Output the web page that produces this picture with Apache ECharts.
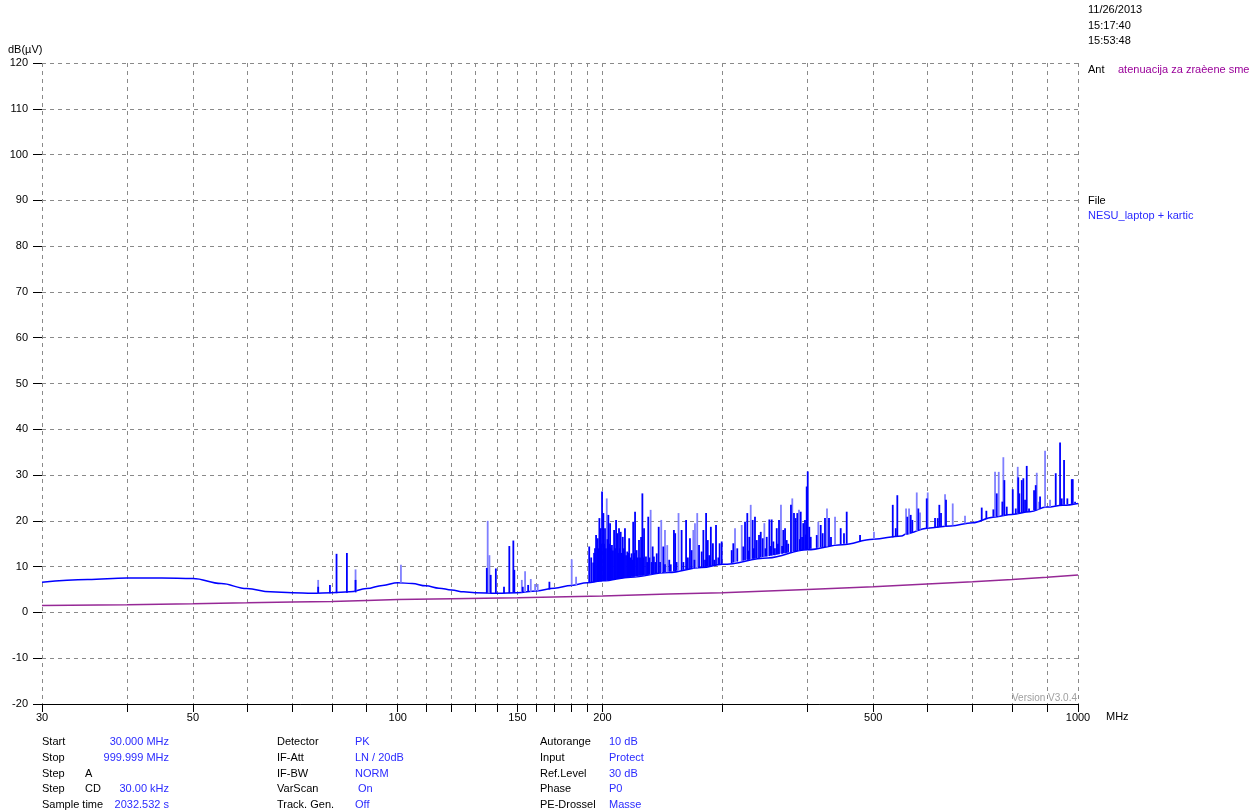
<!DOCTYPE html>
<html><head><meta charset="utf-8">
<script src="https://cdn.jsdelivr.net/npm/echarts@6/dist/echarts.min.js"></script>
<style>html,body{margin:0;padding:0;background:#fff}#c{width:1249px;height:812px}</style>
</head><body><div id="c"></div>
<script>
// ---------- data ----------
const yTicks = [-20, -10, 0, 10, 20, 30, 40, 50, 60, 70, 80, 90, 100, 110, 120];
const xGrid = [30, 40, 50, 60, 70, 80, 90, 100, 110, 120, 130, 140, 150, 160, 170, 180, 190, 200, 300, 400, 500, 600, 700, 800, 900, 1000];
const xLabels = [30, 50, 100, 150, 200, 500, 1000];

// noise floor of the measurement (MHz, dBµV)
const baseFreq  = [30, 35, 40, 45, 50, 55, 60, 65, 70, 75, 80, 85, 90, 95, 100, 105, 110, 115, 120, 125, 130, 140, 150, 160, 170, 180, 190, 200, 220, 250, 280, 300, 350, 400, 450, 500, 550, 560, 600, 650, 700, 750, 800, 850, 900, 950, 1000];
const baseLevel = [6.6, 7.2, 7.5, 7.5, 7.4, 6.3, 5.2, 4.5, 4.3, 4.2, 4.3, 4.5, 5.2, 5.9, 6.5, 6.3, 5.8, 5.3, 4.9, 4.5, 4.3, 4.2, 4.3, 4.7, 5.3, 5.9, 6.5, 6.9, 7.7, 8.7, 9.8, 10.5, 11.9, 13.7, 14.8, 16.0, 16.7, 17.2, 18.4, 18.9, 19.6, 20.8, 21.4, 22.0, 23.0, 23.4, 23.8];

// antenna attenuation curve
const antFreq  = [30, 40, 50, 60, 70, 80, 90, 100, 120, 150, 200, 250, 300, 400, 500, 600, 700, 800, 900, 1000];
const antLevel = [1.5, 1.7, 1.9, 2.1, 2.3, 2.4, 2.6, 2.8, 3.0, 3.2, 3.6, 4.0, 4.3, 5.0, 5.6, 6.2, 6.7, 7.2, 7.7, 8.2];

// emission peaks: [MHz, floor dBµV, peak dBµV]
const spikesDark = [
  [76.4, 4.2, 5.6], [79.5, 4.2, 6.0], [81.3, 4.2, 12.8], [84.2, 4.3, 13.0], [86.7, 4.4, 7.1],
  [135.2, 4.2, 9.7], [137.0, 4.2, 8.2], [139.4, 4.2, 9.6], [143.3, 4.2, 5.6], [145.9, 4.2, 14.5],
  [147.9, 4.3, 15.7], [148.4, 4.3, 9.3], [152.7, 4.4, 5.6], [155.5, 4.5, 6.0], [167.1, 5.0, 6.7],
  [191.2, 6.5, 14.4], [192.5, 6.5, 12.0], [193.8, 6.6, 10.9], [194.4, 6.6, 13.0], [195.0, 6.7, 14.0],
  [195.7, 6.7, 16.9], [196.8, 6.7, 16.2], [197.3, 6.7, 14.0], [197.9, 6.8, 20.6], [198.8, 6.8, 18.4],
  [199.2, 6.8, 15.0], [199.7, 6.9, 26.4], [200.6, 6.9, 21.7], [201.1, 6.9, 15.0], [201.7, 6.9, 18.4],
  [202.3, 7.0, 14.0], [203.4, 7.0, 16.0], [204.0, 7.0, 21.3], [204.6, 7.0, 15.0], [205.2, 7.1, 19.5],
  [205.8, 7.1, 14.0], [206.5, 7.2, 14.7], [207.2, 7.2, 13.5], [208.0, 7.2, 18.0], [208.7, 7.2, 14.0],
  [209.4, 7.3, 20.2], [210.3, 7.3, 17.3], [210.9, 7.3, 13.0], [211.5, 7.4, 18.4], [212.1, 7.4, 14.0],
  [212.7, 7.4, 17.6], [213.4, 7.4, 13.0], [214.2, 7.5, 16.5], [215.0, 7.5, 14.0], [215.8, 7.5, 18.4],
  [216.6, 7.6, 12.5], [217.5, 7.6, 13.3], [218.2, 7.6, 13.0], [218.9, 7.7, 16.2], [219.8, 7.7, 12.0],
  [220.7, 7.8, 12.9], [221.3, 7.8, 11.5], [221.9, 7.8, 19.8], [222.6, 7.8, 13.0], [223.3, 7.9, 22.0],
  [224.5, 7.9, 13.6], [225.4, 7.9, 12.0], [226.3, 8.0, 15.8], [227.1, 8.0, 12.0], [227.9, 8.0, 16.5],
  [228.9, 8.0, 26.0], [229.5, 8.1, 12.0], [230.2, 8.1, 18.4], [231.7, 8.2, 12.2], [232.6, 8.2, 11.0],
  [233.5, 8.2, 20.9], [234.4, 8.3, 12.0], [236.2, 8.3, 11.0], [237.0, 8.4, 14.4], [238.0, 8.4, 12.2],
  [239.1, 8.4, 11.0], [240.3, 8.5, 12.9], [241.9, 8.6, 18.7], [243.0, 8.6, 11.0], [245.7, 8.7, 14.4],
  [247.1, 8.7, 10.5], [250.7, 8.9, 11.5], [252.0, 8.9, 10.5], [254.7, 9.0, 18.0], [255.8, 9.0, 17.3],
  [257.0, 9.1, 11.0], [261.4, 9.2, 18.0], [263.0, 9.3, 11.0], [265.4, 9.4, 20.2], [267.0, 9.4, 12.0],
  [268.9, 9.5, 16.2], [270.4, 9.5, 13.6], [273.0, 9.6, 11.5], [277.3, 9.8, 14.7], [279.8, 9.8, 13.3],
  [281.4, 9.9, 18.0], [283.0, 9.9, 11.5], [284.0, 10.0, 21.7], [285.6, 10.0, 15.8], [287.0, 10.1, 12.5],
  [288.6, 10.1, 18.7], [290.6, 10.2, 15.1], [292.0, 10.2, 11.5], [293.7, 10.3, 19.1], [296.0, 10.4, 12.0],
  [297.3, 10.4, 15.1],
  [299.4, 10.5, 15.5], [309.7, 10.8, 13.6], [311.4, 10.9, 15.1], [315.6, 11.1, 14.0], [322.1, 11.3, 14.4],
  [324.0, 11.4, 19.8], [326.5, 11.5, 21.7], [327.5, 11.5, 13.5], [328.7, 11.5, 16.5], [332.5, 11.7, 20.2],
  [333.8, 11.7, 14.0], [335.1, 11.8, 20.9], [337.1, 11.8, 15.8], [339.7, 11.9, 16.9], [341.7, 12.0, 17.6],
  [344.0, 12.1, 16.2], [347.2, 12.2, 14.0], [348.7, 12.2, 16.5], [351.8, 12.3, 20.3], [353.2, 12.4, 14.5],
  [354.6, 12.4, 20.3], [356.6, 12.5, 15.5], [358.5, 12.5, 14.0], [360.7, 12.6, 18.4], [362.2, 12.7, 15.0],
  [363.5, 12.7, 20.2], [367.3, 12.8, 14.5], [368.8, 12.9, 18.0], [371.0, 12.9, 18.4], [373.1, 13.0, 15.8],
  [375.0, 13.1, 15.0], [378.5, 13.2, 23.5], [382.4, 13.3, 21.7], [384.6, 13.3, 20.6], [386.7, 13.4, 21.7],
  [390.0, 13.5, 16.0], [391.2, 13.5, 22.0], [393.0, 13.6, 16.5], [394.6, 13.6, 19.5], [396.9, 13.7, 20.2],
  [398.0, 13.7, 17.0], [399.2, 13.7, 27.5], [400.6, 13.8, 30.8], [402.7, 13.8, 18.7], [404.7, 13.9, 16.5],
  [413.0, 14.1, 16.9], [418.6, 14.2, 19.1], [421.4, 14.3, 17.3], [424.7, 14.3, 20.6], [430.5, 14.5, 20.6],
  [433.4, 14.5, 16.5], [447.9, 14.9, 18.4], [452.9, 15.0, 17.3], [457.1, 15.0, 22.0], [478.2, 15.5, 16.9],
  [534.2, 16.4, 23.5], [539.6, 16.5, 18.4], [542.5, 16.5, 25.6], [561.2, 17.0, 20.9], [567.7, 17.3, 21.3],
  [570.8, 17.5, 20.2], [582.5, 18.0, 22.7], [599.3, 18.4, 24.9], [616.4, 18.6, 20.6], [622.0, 18.6, 20.6],
  [625.4, 18.7, 23.5], [629.0, 18.7, 21.7], [639.7, 18.9, 24.6], [721.9, 20.2, 22.9], [733.3, 20.5, 22.2],
  [750.9, 20.9, 22.5], [759.6, 21.0, 26.0], [774.1, 21.1, 24.2], [779.4, 21.1, 28.9], [785.7, 21.2, 23.1],
  [801.8, 21.4, 26.9], [810.0, 21.5, 22.7], [817.0, 21.6, 29.5], [819.9, 21.6, 26.0], [826.6, 21.7, 28.9],
  [831.1, 21.8, 29.3], [835.9, 21.9, 24.6], [840.7, 21.9, 32.0], [847.3, 22.0, 22.7], [861.8, 22.3, 26.7],
  [866.7, 22.3, 27.8], [879.5, 22.6, 25.3], [927.4, 23.3, 30.4], [941.1, 23.4, 37.1], [946.5, 23.4, 24.9],
  [953.9, 23.5, 33.3], [964.6, 23.6, 24.9], [979.1, 23.7, 29.1], [982.4, 23.7, 29.1], [990.1, 23.8, 24.2]
];
const spikesLight = [
  [76.4, 4.2, 7.1], [86.7, 4.4, 9.4], [101.1, 6.5, 10.4], [135.6, 4.2, 20.0], [136.4, 4.2, 12.5],
  [152.2, 4.4, 7.1], [153.9, 4.4, 9.0], [156.9, 4.5, 7.3], [159.2, 4.6, 6.2], [160.6, 4.7, 6.2],
  [180.2, 5.9, 11.6], [182.9, 6.0, 7.8],
  [202.9, 7.0, 24.9], [235.4, 8.3, 22.4], [244.0, 8.6, 20.2], [247.1, 8.7, 18.0], [249.0, 8.8, 14.7],
  [258.7, 9.1, 21.7], [272.0, 9.6, 18.0], [273.5, 9.6, 19.5], [275.6, 9.7, 21.7],
  [313.2, 11.0, 18.4], [320.4, 11.2, 19.1], [330.3, 11.6, 23.5], [345.9, 12.1, 19.5], [365.9, 12.8, 23.5],
  [380.2, 13.2, 24.9], [388.9, 13.5, 22.4], [415.2, 14.1, 19.8], [427.6, 14.4, 22.7], [439.4, 14.7, 20.9],
  [501.3, 16.0, 17.6],
  [558.8, 16.9, 22.7], [564.5, 17.1, 22.7], [579.4, 17.8, 26.2], [585.9, 18.1, 21.8], [601.3, 18.4, 26.2],
  [637.6, 18.8, 25.8], [654.4, 19.0, 23.8], [682.2, 19.4, 21.1], [755.2, 20.9, 30.7], [764.7, 21.0, 30.7],
  [776.7, 21.1, 33.9], [815.5, 21.6, 31.8], [869.7, 22.4, 30.5], [876.5, 22.5, 24.2], [894.5, 22.9, 35.3],
  [909.7, 23.1, 24.6]
];

// side texts
const headerLines = ['11/26/2013', '15:17:40', '15:53:48'];
const infoCol1 = [['Start', '', '30.000 MHz'], ['Stop', '', '999.999 MHz'], ['Step', 'A', ''], ['Step', 'CD', '30.00 kHz'], ['Sample time', '', '2032.532 s']];
const infoCol2 = [['Detector', 'PK'], ['IF-Att', 'LN / 20dB'], ['IF-BW', 'NORM'], ['VarScan', ' On'], ['Track. Gen.', 'Off']];
const infoCol3 = [['Autorange', '10 dB'], ['Input', 'Protect'], ['Ref.Level', '30 dB'], ['Phase', 'P0'], ['PE-Drossel', 'Masse']];

// ---------- chart ----------
const FONT = 'Liberation Sans, Arial, sans-serif';
const BLUE_TXT = '#2b2bff';
const chart = echarts.init(document.getElementById('c'), null, {renderer: 'canvas'});

function spikeRenderer(color, w) {
  return function (params, api) {
    const p0 = api.coord([api.value(0), api.value(1)]);
    const p1 = api.coord([api.value(0), api.value(2)]);
    return {type: 'line', shape: {x1: p0[0], y1: p0[1], x2: p1[0], y2: p1[1]},
            style: {stroke: color, lineWidth: w}};
  };
}

const graphics = [];
function txt(x, y, s, color, align, size) {
  graphics.push({type: 'text', x: x, y: y, silent: true,
    style: {text: s, fill: color || '#000', font: (size || 11) + 'px ' + FONT,
            align: align || 'left', verticalAlign: 'middle'}});
}
headerLines.forEach((s, i) => txt(1088, [10, 26, 41][i], s));
txt(1088, 70, 'Ant');
txt(1118, 70, 'atenuacija za zraèene sme', '#990099');
txt(1088, 201, 'File');
txt(1088, 216, 'NESU_laptop + kartic', BLUE_TXT);
txt(8, 50, 'dB(µV)');
txt(1106, 717, 'MHz');
txt(1077, 698, 'Version V3.0.4', '#a0a0a0', 'right', 10);
const rowsY = [742, 758, 774, 789, 805];
infoCol1.forEach((r, i) => {
  txt(42, rowsY[i], r[0]);
  if (r[1]) txt(85, rowsY[i], r[1]);
  if (r[2]) txt(169, rowsY[i], r[2], BLUE_TXT, 'right');
});
infoCol2.forEach((r, i) => { txt(277, rowsY[i], r[0]); txt(355, rowsY[i], r[1], BLUE_TXT); });
infoCol3.forEach((r, i) => { txt(540, rowsY[i], r[0]); txt(609, rowsY[i], r[1], BLUE_TXT); });

const gridLine = {show: true, lineStyle: {color: '#8a8a8a', width: 1, type: [4, 4]}};

chart.setOption({
  animation: false,
  backgroundColor: '#fff',
  grid: {left: 42, right: 171, top: 63, bottom: 108, containLabel: false},
  xAxis: {
    type: 'log', logBase: 10, min: 30, max: 1000,
    axisLine: {show: true, onZero: false, lineStyle: {color: '#000', width: 1}},
    axisTick: {show: true, customValues: xGrid, length: 8, lineStyle: {color: '#000'}},
    axisLabel: {customValues: xLabels, color: '#000', fontSize: 11, fontFamily: FONT, margin: 8,
                formatter: v => String(Math.round(v))},
    splitLine: gridLine,
    minorTick: {show: false}, minorSplitLine: {show: false}
  },
  yAxis: {
    type: 'value', min: -20, max: 120, interval: 10,
    axisLine: {show: false},
    axisTick: {show: true, length: 9, lineStyle: {color: '#000'}},
    axisLabel: {color: '#000', fontSize: 11, fontFamily: FONT, margin: 14,
                customValues: yTicks},
    splitLine: gridLine
  },
  series: [
    {type: 'line', name: 'Ant', data: antFreq.map((f, i) => [f, antLevel[i]]),
     showSymbol: false, symbol: 'none', lineStyle: {color: '#962896', width: 1.5}, z: 3},
    {type: 'line', name: 'Floor', data: baseFreq.map((f, i) => [f, baseLevel[i]]),
     showSymbol: false, symbol: 'none', smooth: 0.4, smoothMonotone: 'x',
     lineStyle: {color: '#0000ff', width: 1.5}, z: 4},
    {type: 'custom', name: 'light', data: spikesLight, renderItem: spikeRenderer('#7f7fff', 1.8),
     encode: {x: 0, y: [1, 2]}, z: 5},
    {type: 'custom', name: 'dark', data: spikesDark, renderItem: spikeRenderer('#0000ff', 1.8),
     encode: {x: 0, y: [1, 2]}, z: 6}
  ],
  graphic: graphics
});
</script>
</body></html>
